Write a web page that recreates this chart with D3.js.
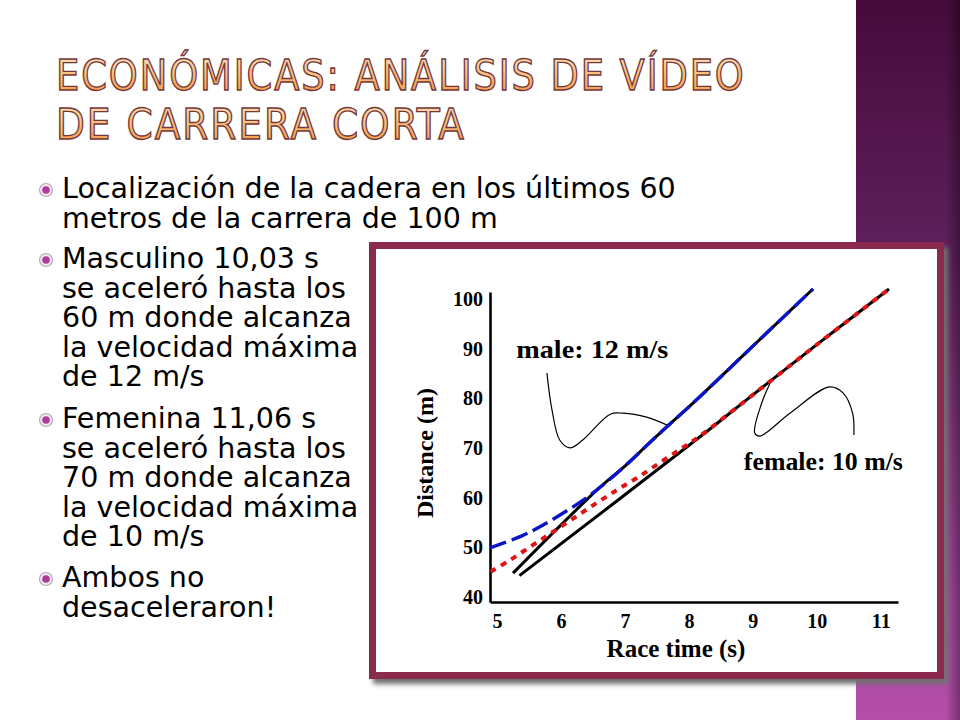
<!DOCTYPE html>
<html lang="es">
<head>
<meta charset="UTF-8">
<title>Económicas: análisis de vídeo de carrera corta</title>
<script src="https://d3js.org/d3.v7.min.js"></script>
<style>
  body { margin: 0; background: #fff; }
  svg { display: block; }
</style>
</head>
<body>
<svg id="slide" width="960" height="720"></svg>
<script>
  // slide text
  const titleLines = ["ECONÓMICAS: ANÁLISIS DE VÍDEO", "DE CARRERA CORTA"];
  const bulletItems = [
    ["Localización de la cadera en los últimos 60", "metros de la carrera de 100 m"],
    ["Masculino 10,03 s", "se aceleró hasta los", "60 m donde alcanza", "la velocidad máxima", "de 12 m/s"],
    ["Femenina 11,06 s", "se aceleró hasta los", "70 m donde alcanza", "la velocidad máxima", "de 10 m/s"],
    ["Ambos no", "desaceleraron!"]
  ];

  // chart values (time in s, distance in m)
  const xTicks = [5, 6, 7, 8, 9, 10, 11];
  const yTicks = [40, 50, 60, 70, 80, 90, 100];

  const maleFitTime = [4.89, 5.39, 5.72, 6.06, 6.40, 6.69, 7.03, 7.34, 7.60, 8.17, 9.0, 9.94];
  const maleFitDist = [49.9, 52.3, 54.5, 57.1, 60.0, 62.9, 66.7, 70.5, 73.6, 80.3, 90.5, 102];

  const maleHipTime = [5.25, 6.56, 7.03, 7.34, 7.60, 8.17, 9.0, 9.94];
  const maleHipDist = [44.8, 61.5, 66.7, 70.5, 73.6, 80.3, 90.5, 102];

  const femaleFitTime = [4.90, 5.20, 5.54, 5.85, 6.19, 6.53, 6.87, 7.18, 7.52, 7.86, 8.15, 9.0, 10.0, 11.13];
  const femaleFitDist = [45.1, 47.4, 50.3, 52.9, 55.8, 58.7, 61.5, 63.9, 66.8, 69.7, 72.2, 80.7, 90.8, 102];

  const femaleHipTime = [5.35, 8.17, 9.0, 10.0, 11.13];
  const femaleHipDist = [44.3, 72.2, 80.7, 90.8, 102];

  const maleNoteTime = [5.78, 5.86, 5.98, 6.14, 6.34, 6.77, 6.97, 7.34, 7.66];
  const maleNoteDist = [85.1, 77.6, 71.6, 70.0, 71.6, 76.8, 77.0, 76.2, 74.6];

  const femaleNoteTime = [9.31, 9.14, 9.03, 9.11, 9.58, 10.2, 10.41, 10.56, 10.58];
  const femaleNoteDist = [84.1, 79.1, 73.0, 72.4, 77.0, 82.3, 81.1, 77.0, 72.6];

  const labels = [
    { text: "male: 12 m/s", t: 5.30, d: 88.1, width: 152 },
    { text: "female: 10 m/s", t: 8.86, d: 65.6, width: 159 }
  ];

  const svg = d3.select("#slide");
  const defs = svg.append("defs");

  // backgrounds
  const side = defs.append("linearGradient").attr("id", "side").attr("x1", 0).attr("y1", 0).attr("x2", 0).attr("y2", 1);
  [["0", "#470a3b"], ["0.35", "#5f205c"], ["0.65", "#8e3c89"], ["0.85", "#ab4aa3"], ["1", "#b34da9"]]
    .forEach(([o, c]) => side.append("stop").attr("offset", o).attr("stop-color", c));

  const edge = defs.append("linearGradient").attr("id", "edge");
  edge.append("stop").attr("offset", 0).attr("stop-color", "#000").attr("stop-opacity", 0);
  edge.append("stop").attr("offset", 1).attr("stop-color", "#000").attr("stop-opacity", 0.35);

  const titleFill = defs.append("linearGradient").attr("id", "titleFill").attr("x1", 0).attr("y1", 0).attr("x2", 0).attr("y2", 1);
  [["0", "#fde4c4"], ["0.5", "#f9bd7a"], ["1", "#f08f3c"]]
    .forEach(([o, c]) => titleFill.append("stop").attr("offset", o).attr("stop-color", c));

  const blur = defs.append("filter").attr("id", "shadow").attr("x", "-5%").attr("y", "-5%").attr("width", "110%").attr("height", "115%");
  blur.append("feGaussianBlur").attr("stdDeviation", 2.5);

  svg.append("rect").attr("width", 960).attr("height", 720).attr("fill", "#fff");
  svg.append("rect").attr("x", 856).attr("width", 104).attr("height", 720).attr("fill", "url(#side)");
  svg.append("rect").attr("x", 946).attr("width", 14).attr("height", 720).attr("fill", "url(#edge)");

  // title
  const title = svg.append("g");
  titleLines.forEach((line, i) => {
    const t = title.append("text")
      .attr("y", [90, 139][i])
      .attr("font-family", "'DejaVu Sans Condensed', 'DejaVu Sans', sans-serif")
      .attr("font-size", 42)
      .attr("letter-spacing", 2)
      .attr("fill", "url(#titleFill)")
      .attr("stroke", "#74373a")
      .attr("stroke-width", 1.3)
      .text(line);
    const w = t.node().getComputedTextLength();
    const target = [690, 410][i];
    t.attr("transform", `translate(56,0) scale(${target / w},1)`);
  });

  // bullets
  const firstBaselines = [198, 268, 428, 587];
  const lineGap = 29.6;
  const body = svg.append("g");
  const probe = body.append("text")
    .attr("font-family", "'DejaVu Sans', sans-serif").attr("font-size", 28)
    .text(bulletItems[0][0]);
  const squeeze = 614 / probe.node().getComputedTextLength();
  probe.remove();

  bulletItems.forEach((lines, i) => {
    const y0 = firstBaselines[i];
    body.append("circle").attr("cx", 46).attr("cy", y0 - 8).attr("r", 6.5)
      .attr("fill", "#f1e9f0").attr("stroke", "#b9a5b6").attr("stroke-width", 1.2);
    body.append("circle").attr("cx", 46).attr("cy", y0 - 8).attr("r", 3.8).attr("fill", "#b0399c");
    lines.forEach((line, j) => {
      body.append("text")
        .attr("transform", `translate(62,${y0 + j * lineGap}) scale(${squeeze},1)`)
        .attr("font-family", "'DejaVu Sans', sans-serif")
        .attr("font-size", 28)
        .attr("fill", "#000")
        .text(line);
    });
  });

  // picture frame
  svg.append("rect").attr("x", 373).attr("y", 247).attr("width", 575).attr("height", 437)
    .attr("fill", "#6f6f6f").attr("filter", "url(#shadow)");
  svg.append("rect").attr("x", 369).attr("y", 242).attr("width", 575).attr("height", 437).attr("fill", "#8a2b4e");
  svg.append("rect").attr("x", 376).attr("y", 249).attr("width", 561).attr("height", 423).attr("fill", "#fff");

  // chart
  const x = d3.scaleLinear().domain([4.89, 11.27]).range([490, 898]);
  const y = d3.scaleLinear().domain([38.99, 101.4]).range([602, 292]);
  const serif = "'Liberation Serif', 'Times New Roman', serif";

  const chart = svg.append("g");

  const xAxis = chart.append("g")
    .attr("transform", `translate(0,${y.range()[0]})`)
    .call(d3.axisBottom(x).tickValues(xTicks).tickSize(0).tickSizeOuter(0).tickPadding(12).tickFormat(d3.format("d")));
  const yAxis = chart.append("g")
    .attr("transform", `translate(${x.range()[0]},0)`)
    .call(d3.axisLeft(y).tickValues(yTicks).tickSize(0).tickSizeOuter(0).tickPadding(7).tickFormat(d3.format("d")));

  [xAxis, yAxis].forEach(a => {
    a.select(".domain").attr("stroke", "#000").attr("stroke-width", 2.6);
    a.selectAll("text").attr("font-family", serif).attr("font-weight", "bold")
      .attr("font-size", 20).attr("fill", "#000");
  });

  chart.append("text")
    .attr("x", 676).attr("y", 657)
    .attr("text-anchor", "middle")
    .attr("font-family", serif).attr("font-weight", "bold").attr("font-size", 25)
    .text("Race time (s)");
  chart.append("text")
    .attr("transform", "translate(433,453) rotate(-90)")
    .attr("text-anchor", "middle")
    .attr("font-family", serif).attr("font-weight", "bold").attr("font-size", 24)
    .text("Distance (m)");

  const smooth = d3.line().x(d => x(d[0])).y(d => y(d[1])).curve(d3.curveCatmullRom.alpha(0.5));
  const pairs = (ts, ds) => ts.map((t, i) => [t, ds[i]]);

  // annotation leaders
  chart.append("path").attr("d", smooth(pairs(maleNoteTime, maleNoteDist)))
    .attr("fill", "none").attr("stroke", "#000").attr("stroke-width", 1.2);
  chart.append("path").attr("d", smooth(pairs(femaleNoteTime, femaleNoteDist)))
    .attr("fill", "none").attr("stroke", "#000").attr("stroke-width", 1.2);

  // measured hip positions (solid black)
  chart.append("path").attr("d", smooth(pairs(maleHipTime, maleHipDist)))
    .attr("fill", "none").attr("stroke", "#000").attr("stroke-width", 3);
  chart.append("path").attr("d", smooth(pairs(femaleHipTime, femaleHipDist)))
    .attr("fill", "none").attr("stroke", "#000").attr("stroke-width", 3);

  // fitted curves
  chart.append("path").attr("d", smooth(pairs(maleFitTime, maleFitDist)))
    .attr("fill", "none").attr("stroke", "#0a14c8").attr("stroke-width", 3.4)
    .attr("stroke-dasharray", "17 6");
  chart.append("path").attr("d", smooth(pairs(femaleFitTime, femaleFitDist)))
    .attr("fill", "none").attr("stroke", "#e01414").attr("stroke-width", 4)
    .attr("stroke-dasharray", "6 6");

  labels.forEach(l => {
    chart.append("text")
      .attr("x", x(l.t)).attr("y", y(l.d))
      .attr("font-family", serif).attr("font-weight", "bold").attr("font-size", 25)
      .attr("textLength", l.width).attr("lengthAdjust", "spacingAndGlyphs")
      .text(l.text);
  });
</script>
</body>
</html>
